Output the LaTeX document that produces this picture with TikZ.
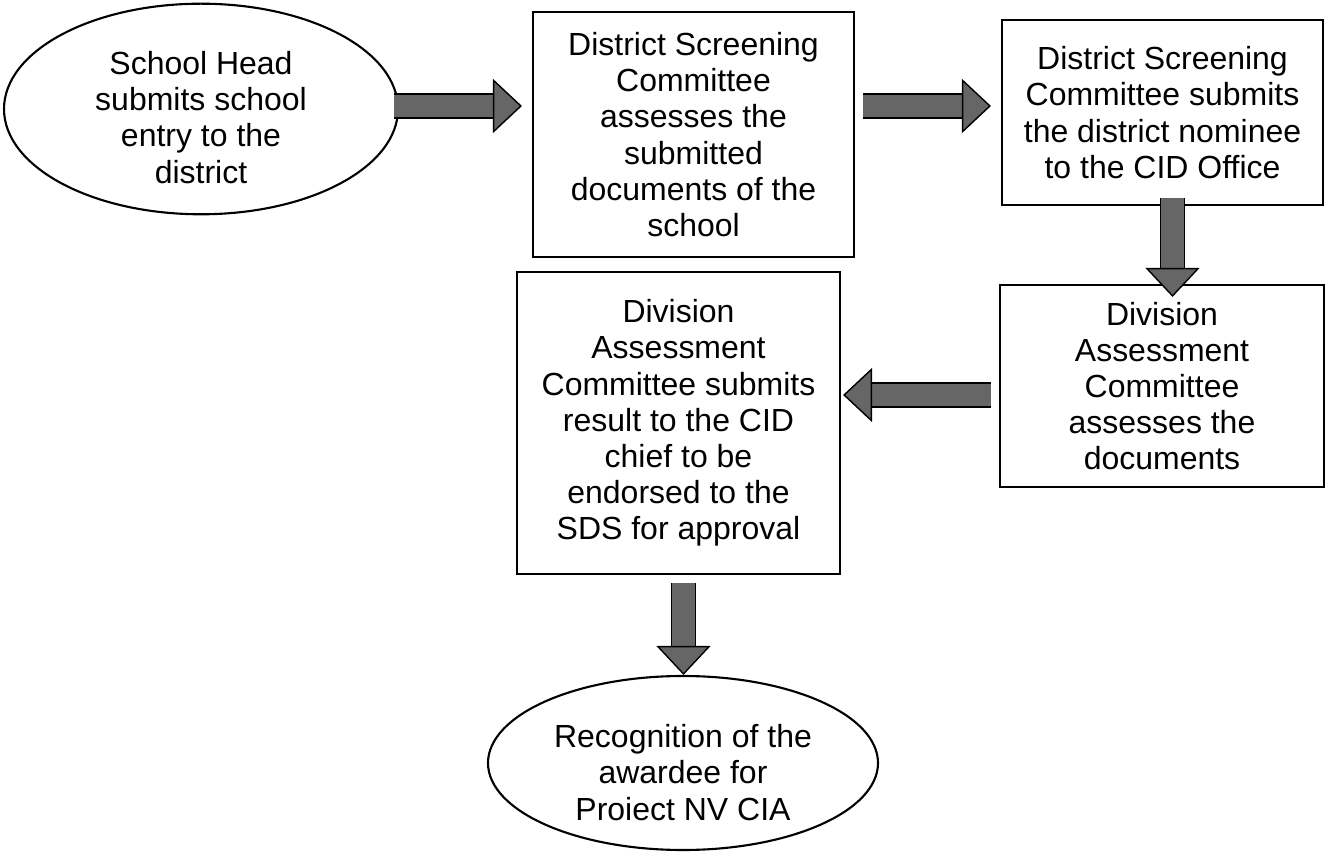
\documentclass[tikz,border=0pt]{standalone}
\usepackage{fontspec}
\setmainfont{Liberation Sans}
\usetikzlibrary{arrows.meta,positioning,shapes.geometric}

\begin{document}
\begin{tikzpicture}[font=\fontsize{18.2}{20.6}\selectfont,
        box/.style={draw, line width=1.2pt, align=center, inner sep=0pt},
        oval/.style={ellipse, draw, line width=1.2pt, align=center, inner sep=0pt},
        fat/.style={line width=0.8pt, double=black!60, double distance=0.45cm,
            -{Triangle[width=1.08cm,length=0.58cm,fill=black!60,line width=0.8pt]}}]
    \useasboundingbox (0,0) rectangle (26.54,17.06);

    \node[oval, minimum width=7.88cm, minimum height=4.04cm] (s_1) at (4.02,14.88)
        {\rule{0pt}{0.8cm}School Head\\submits school\\entry to the\\district};
    \node[box, minimum width=6.42cm, minimum height=4.9cm] (s_2) at (13.87,14.37)
        {District Screening\\Committee\\assesses the\\submitted\\documents of the\\school};
    \node[box, minimum width=6.42cm, minimum height=3.7cm] (s_3) at (23.25,14.81)
        {District Screening\\Committee submits\\the district nominee\\to the CID Office};
    \node[box, minimum width=6.48cm, minimum height=4.04cm] (s_4) at (23.24,9.34)
        {Division\\Assessment\\Committee\\assesses the\\documents};
    \node[box, minimum width=6.46cm, minimum height=6.04cm] (s_5) at (13.57,8.6)
        {Division\\Assessment\\Committee submits\\result to the CID\\chief to be\\endorsed to the\\SDS for approval};
    \node[oval, minimum width=7.8cm, minimum height=3.48cm] (s_6) at (13.66,1.8)
        {\rule{0pt}{0.84cm}Recognition of the\\awardee for\\Proiect NV CIA};

    \draw[fat, shorten <=-0.1cm, shorten >=0.2cm] ([yshift=0.06cm]s_1.east) -- ([yshift=0.06cm]s_1.east -| s_2.west);
    \draw[fat, shorten <=0.16cm, shorten >=0.2cm] ([yshift=0.06cm]s_1.east -| s_2.east) -- ([yshift=0.06cm]s_1.east -| s_3.west);
    \draw[fat, shorten <=-0.16cm, shorten >=-0.26cm] ([xshift=0.2cm]s_3.south) -- ([xshift=0.2cm]s_3.south |- s_4.north);
    \draw[fat, shorten <=0.16cm, shorten >=0.04cm] ([yshift=-0.18cm]s_4.west) -- ([yshift=-0.18cm]s_4.west -| s_5.east);
    \draw[fat, shorten <=0.16cm] ([xshift=0.1cm]s_5.south) -- ([xshift=0.1cm]s_5.south |- s_6.north);
\end{tikzpicture}
\end{document}
